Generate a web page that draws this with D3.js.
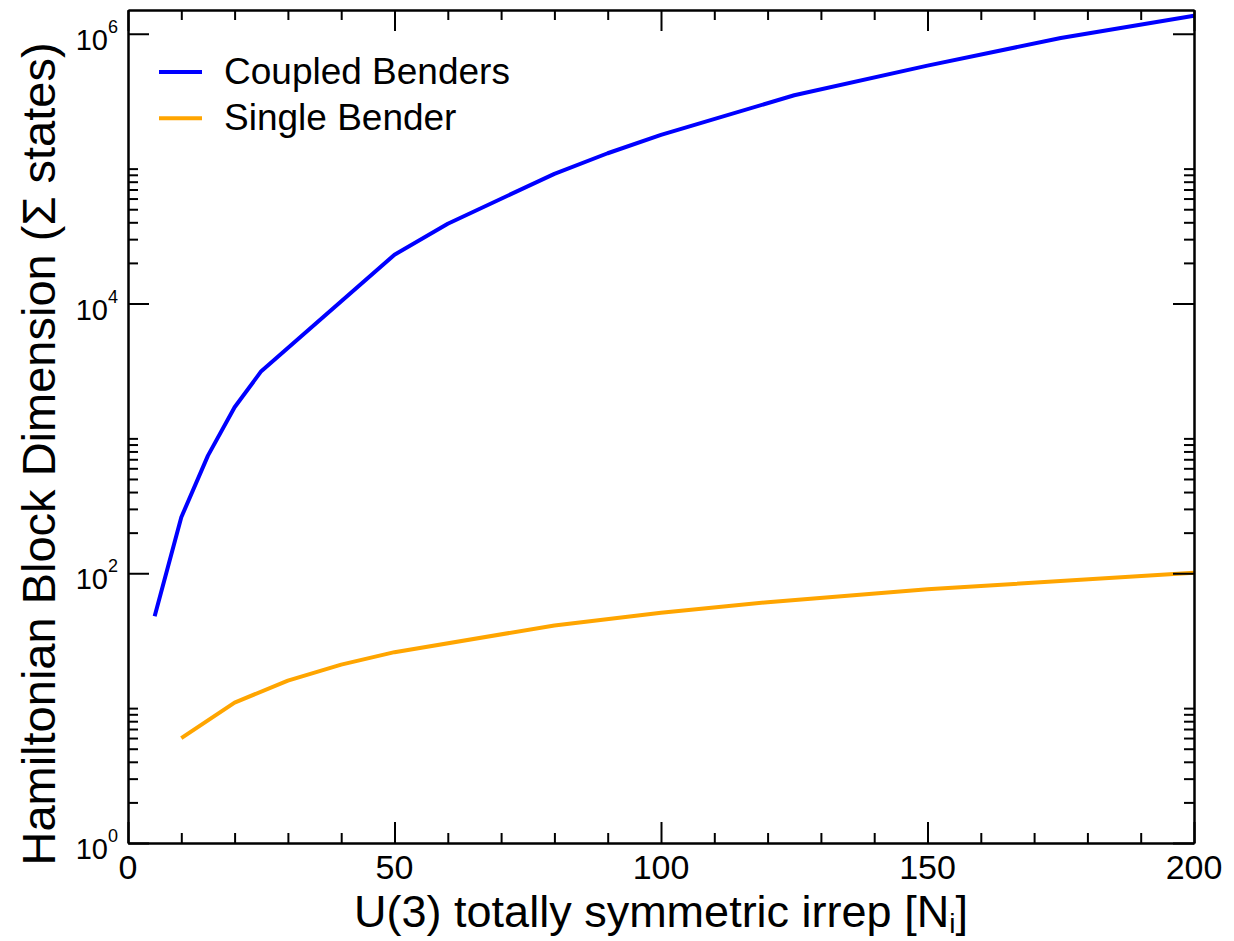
<!DOCTYPE html>
<html>
<head>
<meta charset="utf-8">
<script src="https://cdn.jsdelivr.net/npm/d3@7"></script>
<style>
  body { margin: 0; background: #fff; }
  svg { display: block; }
  text { font-family: "Liberation Sans", Arial, Helvetica, sans-serif; fill: #000; }
</style>
</head>
<body>
<svg id="chart" width="1234" height="941"></svg>
<script>
// Basis size of the Hamiltonian block versus the U(3) totally symmetric irrep N
const coupledN   = [5, 10, 15, 20, 25, 50, 60, 80, 90, 100, 125, 150, 175, 200];
const coupledDim = [48, 260, 745, 1700, 3150, 23000, 39000, 91500, 130000, 178000, 350000, 580000, 930000, 1360000];

const singleN   = [10, 20, 30, 40, 50, 80, 100, 120, 150, 200];
const singleDim = [6, 11, 16, 21, 26, 41, 51, 61, 76, 101];

const seriesNames  = ["Coupled Benders", "Single Bender"];
const seriesColors = ["#0000ff", "#ffa500"];

const xMajorTicks = [0, 50, 100, 150, 200];
const xMinorStep = 10;
const yMajorExponents = [0, 2, 4, 6];
const yMinorMultipliers = [2, 3, 4, 5, 6, 7, 8, 9, 10];

const svg = d3.select("#chart");
const frame = { left: 128, right: 1194, top: 10, bottom: 843 };

const x = d3.scaleLinear().domain([0, 200]).range([frame.left, frame.right]);
const y = d3.scaleLog().domain([1, 1.5e6]).range([frame.bottom, frame.top]);

// ---- data lines
const line = d3.line().x(d => x(d[0])).y(d => y(d[1]));
const series = [
  d3.zip(coupledN, coupledDim),
  d3.zip(singleN, singleDim)
];
svg.append("g").selectAll("path")
  .data(series)
  .join("path")
  .attr("d", line)
  .attr("fill", "none")
  .attr("stroke", (d, i) => seriesColors[i])
  .attr("stroke-width", 4)
  .attr("stroke-linejoin", "round");

// ---- axes (ticks pointing into the frame on all four sides)
const xMinor = d3.range(0, 201, xMinorStep).filter(v => !xMajorTicks.includes(v));
const yMajor = yMajorExponents.map(e => Math.pow(10, e));
const yMinor = [];
yMajorExponents.slice(0, 3).forEach(e => yMinorMultipliers.forEach(m => yMinor.push(m * Math.pow(10, e))));

function styleAxis(g) {
  g.selectAll("text").remove();
  g.selectAll("path,line").attr("stroke", "#000").attr("stroke-width", 2);
}

const axes = svg.append("g");
// bottom
axes.append("g").attr("transform", `translate(0,${frame.bottom})`)
  .call(d3.axisBottom(x).tickValues(xMinor).tickSize(-10).tickSizeOuter(0)).call(styleAxis);
axes.append("g").attr("transform", `translate(0,${frame.bottom})`)
  .call(d3.axisBottom(x).tickValues(xMajorTicks).tickSize(-21).tickSizeOuter(0)).call(styleAxis);
// top
axes.append("g").attr("transform", `translate(0,${frame.top})`)
  .call(d3.axisTop(x).tickValues(xMinor).tickSize(-10).tickSizeOuter(0)).call(styleAxis);
axes.append("g").attr("transform", `translate(0,${frame.top})`)
  .call(d3.axisTop(x).tickValues(xMajorTicks).tickSize(-21).tickSizeOuter(0)).call(styleAxis);
// left
axes.append("g").attr("transform", `translate(${frame.left},0)`)
  .call(d3.axisLeft(y).tickValues(yMinor).tickSize(-10).tickSizeOuter(0)).call(styleAxis);
axes.append("g").attr("transform", `translate(${frame.left},0)`)
  .call(d3.axisLeft(y).tickValues(yMajor).tickSize(-21).tickSizeOuter(0)).call(styleAxis);
// right
axes.append("g").attr("transform", `translate(${frame.right},0)`)
  .call(d3.axisRight(y).tickValues(yMinor).tickSize(-10).tickSizeOuter(0)).call(styleAxis);
axes.append("g").attr("transform", `translate(${frame.right},0)`)
  .call(d3.axisRight(y).tickValues(yMajor).tickSize(-21).tickSizeOuter(0)).call(styleAxis);

// ---- tick labels
svg.append("g").selectAll("text")
  .data(xMajorTicks)
  .join("text")
  .attr("x", d => x(d))
  .attr("y", 879)
  .attr("text-anchor", "middle")
  .attr("font-size", 34)
  .text(d => d);

const yLabels = svg.append("g").selectAll("text")
  .data(yMajorExponents)
  .join("text")
  .attr("x", 118)
  .attr("y", e => y(Math.pow(10, e)) + 16)
  .attr("text-anchor", "end")
  .attr("font-size", 29);
yLabels.append("tspan").text("10");
yLabels.append("tspan").attr("font-size", 18).attr("dy", -17).text(e => e);

// ---- axis titles
svg.append("text")
  .attr("x", (frame.left + frame.right) / 2)
  .attr("y", 927)
  .attr("text-anchor", "middle")
  .attr("font-size", 45)
  .call(t => {
    t.append("tspan").text("U(3) totally symmetric irrep [N");
    t.append("tspan").attr("font-size", 28).attr("dy", 6).text("i");
    t.append("tspan").attr("dy", -6).text("]");
  });

svg.append("text")
  .attr("transform", "translate(55,454) rotate(-90)")
  .attr("text-anchor", "middle")
  .attr("font-size", 47)
  .text("Hamiltonian Block Dimension (\u03A3 states)");

// ---- legend
const legend = svg.append("g").selectAll("g")
  .data(seriesNames)
  .join("g")
  .attr("transform", (d, i) => `translate(159,${72 + i * 46.3})`);
legend.append("line")
  .attr("x1", 0).attr("x2", 43)
  .attr("stroke", (d, i) => seriesColors[i])
  .attr("stroke-width", 4);
legend.append("text")
  .attr("x", 65)
  .attr("y", 11.5)
  .attr("font-size", 37)
  .text(d => d);
</script>
</body>
</html>
